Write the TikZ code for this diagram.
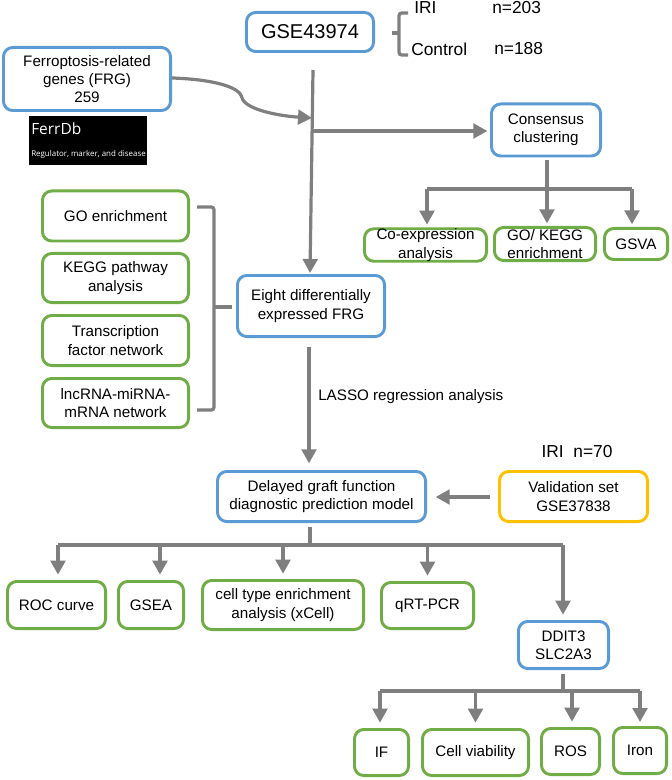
\documentclass[tikz,border=0pt]{standalone}
\usepackage{fontspec}
\setmainfont{Liberation Sans}
\newfontfamily\ferrfont{Open Sans}
\usetikzlibrary{arrows.meta}
\definecolor{boxblue}{HTML}{5B9BD5}
\definecolor{boxgreen}{HTML}{70AD47}
\definecolor{boxyellow}{HTML}{FFC000}
\definecolor{flowgray}{HTML}{7F7F7F}
\begin{document}
\begin{tikzpicture}[x=0.75pt,y=-0.75pt,
	sz/.style 2 args={minimum width=#1*0.75pt-2.2pt, minimum height=#2*0.75pt-2.2pt},
	box/.style={draw, line width=2.2pt, rounded corners=7pt, align=center, inner sep=0pt, font=\fontsize{11.4}{13.7}\selectfont},
	bluebox/.style={box, draw=boxblue},
	greenbox/.style={box, draw=boxgreen},
	yellowbox/.style={box, draw=boxyellow},
	txt/.style={inner sep=0pt, anchor=west, font=\fontsize{13}{15}\selectfont},
	flow/.style={draw=flowgray, line width=2.4pt},
	arrow/.style={flow, -{Triangle[length=10.5pt,width=11pt]}, shorten >=2pt}]
		\useasboundingbox (0,0) rectangle (671,780);
		\node[bluebox, sz={130}{42}, font=\fontsize{15}{18}\selectfont] at (310,32) (GSE) {GSE43974};
		\node[bluebox, sz={170}{66}] at (87,79) (FRG) {Ferroptosis-related\\genes (FRG)\\259};
		\node[fill=black, minimum width=88.5pt, minimum height=36.75pt, inner sep=0pt] at (88,140.5) (FerrDb) {};
		\node[white, inner sep=0pt, anchor=west, font=\ferrfont\fontsize{11.6}{14}\selectfont] at (31,129) (FerrTitle) {FerrDb};
		\node[white, inner sep=0pt, anchor=west, font=\ferrfont\fontsize{5.95}{7}\selectfont] at (31,154) (FerrSub) {Regulator, marker, and disease};
		\node[txt] at (414,8) (IRI) {IRI};
		\node[txt] at (492,8) (IRIn) {n=203};
		\node[txt] at (411,49) (Control) {Control};
		\node[txt] at (494,49) (Controln) {n=188};
		\node[bluebox, sz={112}{55}] at (546,130) (Consensus) {Consensus\\clustering};
		\node[greenbox, sz={125}{35}] at (425.5,245) (Coexp) {Co-expression\\analysis};
		\node[greenbox, sz={104}{36}] at (545,244) (GOKEGG) {GO/ KEGG\\enrichment};
		\node[greenbox, sz={66}{34}] at (636,244) (GSVA) {GSVA};
		\node[greenbox, sz={149}{53}] at (115.5,216) (GO) {GO enrichment};
		\node[greenbox, sz={149}{52}] at (115.5,278) (KEGG) {KEGG pathway\\analysis};
		\node[greenbox, sz={149}{53}] at (115.5,340.5) (TF) {Transcription\\factor network};
		\node[greenbox, sz={149}{52}] at (115.5,403) (lnc) {lncRNA-miRNA-\\mRNA network};
		\node[bluebox, sz={150}{64}] at (311,306) (Eight) {Eight differentially\\expressed FRG};
		\node[inner sep=0pt, anchor=west, font=\fontsize{11.4}{13.7}\selectfont] at (318,397) (LASSO) {LASSO regression analysis};
		\node[bluebox, sz={211}{53}] at (321.5,496.5) (Delayed) {Delayed graft function\\diagnostic prediction model};
		\node[yellowbox, sz={151}{53}] at (573.5,496.5) (Validation) {Validation set\\GSE37838};
		\node[txt, anchor=center] at (577,452) (IRIval) {IRI\ \ n=70};
		\node[greenbox, sz={101}{50}] at (56.5,605) (ROC) {ROC curve};
		\node[greenbox, sz={68}{50}] at (151,605) (GSEA) {GSEA};
		\node[greenbox, sz={164}{52}] at (283,605) (Cell) {cell type enrichment\\analysis (xCell)};
		\node[greenbox, sz={95}{49}] at (427.5,605.5) (qPCR) {qRT-PCR};
		\node[bluebox, sz={93}{50}] at (563.5,645) (DDIT) {DDIT3\\SLC2A3};
		\node[greenbox, sz={57}{49}] at (381.5,752.5) (IF) {IF};
		\node[greenbox, sz={109}{49}] at (475.5,752.5) (Viab) {Cell viability};
		\node[greenbox, sz={61}{49}] at (570.5,751.5) (ROS) {ROS};
		\node[greenbox, sz={56}{49}] at (640,750.5) (Iron) {Iron};
		\coordinate (mainTop) at (313,70);
		\coordinate (mainEnd) at (310,273);
		\coordinate (mainTurn) at (313,131);
		\coordinate (frgStart) at (172,78);
		\coordinate (frgBend) at (242,98);
		\coordinate (frgEnd) at (312,118);
		\coordinate (consBus) at (547,189);
		\coordinate (consLeft) at (427,189);
		\coordinate (consRight) at (632,189);
		\coordinate (modelBus) at (310,545);
		\coordinate (modelLeft) at (58,545);
		\coordinate (modelRight) at (563,545);
		\coordinate (gseaBus) at (160,545);
		\coordinate (geneBus) at (563,691);
		\coordinate (geneLeft) at (380,691);
		\coordinate (geneRight) at (640,691);
		\coordinate (rosBus) at (572,691);
		\coordinate (lassoTop) at (309,347);
		\coordinate (validY) at (0,497);
		\coordinate (braceA) at (408,13);
		\coordinate (braceB) at (408,55);
		\coordinate (braceC) at (399,33);
		\coordinate (braceD) at (392,33);
		\coordinate (braceE) at (197,207);
		\coordinate (braceF) at (197,410);
		\coordinate (braceG) at (214,307);
		\coordinate (braceH) at (232,307);
		\draw[arrow, shorten >=0pt] (mainTop) -- (mainEnd);
		\draw[flow] (frgStart) .. controls (205,79) and (240,85) .. (frgBend);
		\draw[arrow, shorten >=0pt] (frgBend) .. controls (246,110) and (280,116) .. (frgEnd);
		\draw[arrow] (mainTurn) -- (Consensus.west |- mainTurn);
		\draw[flow, shorten <=2pt] (Consensus.south -| consBus) -- (consBus);
		\draw[flow] (consLeft) -- (consRight);
		\draw[arrow] (consLeft) -- (consLeft |- Coexp.north);
		\draw[arrow] (consBus) -- (consBus |- GOKEGG.north);
		\draw[arrow] (consRight) -- (consRight |- GSVA.north);
		\draw[arrow, shorten >=5pt] (lassoTop) -- (lassoTop |- Delayed.north);
		\draw[arrow, shorten <=6pt, shorten >=6.5pt] (Validation.west |- validY) -- (Delayed.east |- validY);
		\draw[flow, shorten <=3pt] (Delayed.south -| modelBus) -- (modelBus);
		\draw[flow] (modelLeft) -- (modelRight);
		\draw[arrow, shorten >=4pt] (modelLeft) -- (modelLeft |- ROC.north);
		\draw[arrow, shorten >=4pt] (gseaBus) -- (gseaBus |- GSEA.north);
		\draw[arrow, shorten >=4pt] (Cell.north |- modelBus) -- (Cell.north);
		\draw[arrow, shorten >=4pt] (qPCR.north |- modelBus) -- (qPCR.north);
		\draw[arrow, shorten >=4pt] (modelRight) -- (modelRight |- DDIT.north);
		\draw[flow, shorten <=3pt] (DDIT.south -| geneBus) -- (geneBus);
		\draw[flow] (geneLeft) -- (geneRight);
		\draw[arrow, shorten >=4pt] (geneLeft) -- (geneLeft |- IF.north);
		\draw[arrow, shorten >=4pt] (Viab.north |- geneBus) -- (Viab.north);
		\draw[arrow, shorten >=4pt] (rosBus) -- (rosBus |- ROS.north);
		\draw[arrow, shorten >=3pt] (geneRight) -- (geneRight |- Iron.north);
		\draw[flow, rounded corners=2pt] (braceA) -- (399,13) -- (399,55) -- (braceB);
		\draw[flow] (braceC) -- (braceD);
		\draw[flow, rounded corners=2pt] (braceE) -- (214,207) -- (214,410) -- (braceF);
		\draw[flow] (braceG) -- (braceH);
	\end{tikzpicture}
\end{document}
